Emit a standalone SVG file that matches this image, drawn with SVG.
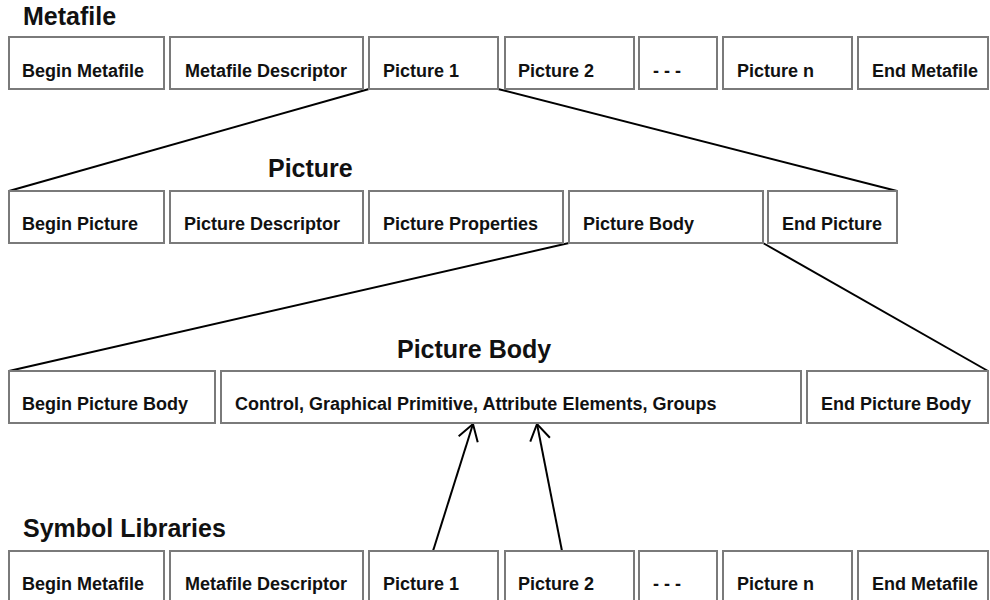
<svg xmlns="http://www.w3.org/2000/svg" width="990" height="600" viewBox="0 0 990 600">
<defs>
<style>
.box{fill:#fff;stroke:#7a7a7a;stroke-width:2}
.lbl{font-family:"Liberation Sans",Arial,sans-serif;font-weight:bold;font-size:18px;fill:#111}
.ttl{font-family:"Liberation Sans",Arial,sans-serif;font-weight:bold;font-size:25px;fill:#111}
.con{stroke:#000;stroke-width:2;fill:none}
</style>
<marker id="ah" markerUnits="userSpaceOnUse" markerWidth="20" markerHeight="24" viewBox="0 0 20 24" refX="18" refY="12" orient="auto">
<path d="M2,2 L18,12 L2,22" fill="none" stroke="#000" stroke-width="2"/>
</marker>
</defs>
<rect width="990" height="600" fill="#fff"/>

<text class="ttl" x="23" y="25">Metafile</text>
<text class="ttl" x="268" y="177">Picture</text>
<text class="ttl" x="397" y="358">Picture Body</text>
<text class="ttl" x="23" y="537">Symbol Libraries</text>

<g id="connectors">
<line class="con" x1="369" y1="89" x2="9" y2="191"/>
<line class="con" x1="498" y1="89" x2="897" y2="191"/>
<line class="con" x1="569" y1="243" x2="9" y2="371"/>
<line class="con" x1="763" y1="243" x2="988" y2="371"/>
<line class="con" x1="433" y1="551" x2="473" y2="424" marker-end="url(#ah)"/>
<line class="con" x1="562" y1="551" x2="537" y2="424" marker-end="url(#ah)"/>
</g>

<g id="m-begin"><rect class="box" x="9" y="37" width="155" height="52"/><text class="lbl" x="22" y="77">Begin Metafile</text></g>
<g id="m-desc"><rect class="box" x="170" y="37" width="193" height="52"/><text class="lbl" x="185" y="77">Metafile Descriptor</text></g>
<g id="m-pic1"><rect class="box" x="369" y="37" width="129" height="52"/><text class="lbl" x="383" y="77">Picture 1</text></g>
<g id="m-pic2"><rect class="box" x="505" y="37" width="129" height="52"/><text class="lbl" x="518" y="77">Picture 2</text></g>
<g id="m-dots"><rect class="box" x="639" y="37" width="78" height="52"/><text class="lbl" x="653" y="77">- - -</text></g>
<g id="m-picn"><rect class="box" x="723" y="37" width="129" height="52"/><text class="lbl" x="737" y="77">Picture n</text></g>
<g id="m-end"><rect class="box" x="858" y="37" width="130" height="52"/><text class="lbl" x="872" y="77">End Metafile</text></g>

<g id="p-begin"><rect class="box" x="9" y="191" width="155" height="52"/><text class="lbl" x="22" y="230">Begin Picture</text></g>
<g id="p-desc"><rect class="box" x="170" y="191" width="193" height="52"/><text class="lbl" x="184" y="230">Picture Descriptor</text></g>
<g id="p-props"><rect class="box" x="369" y="191" width="194" height="52"/><text class="lbl" x="383" y="230">Picture Properties</text></g>
<g id="p-body"><rect class="box" x="569" y="191" width="194" height="52"/><text class="lbl" x="583" y="230">Picture Body</text></g>
<g id="p-end"><rect class="box" x="768" y="191" width="129" height="52"/><text class="lbl" x="782" y="230">End Picture</text></g>

<g id="b-begin"><rect class="box" x="9" y="371" width="206" height="52"/><text class="lbl" x="22" y="410">Begin Picture Body</text></g>
<g id="b-elems"><rect class="box" x="221" y="371" width="580" height="52"/><text class="lbl" x="235" y="410">Control, Graphical Primitive, Attribute Elements, Groups</text></g>
<g id="b-end"><rect class="box" x="807" y="371" width="181" height="52"/><text class="lbl" x="821" y="410">End Picture Body</text></g>

<g id="s-begin"><rect class="box" x="9" y="551" width="155" height="52"/><text class="lbl" x="22" y="590">Begin Metafile</text></g>
<g id="s-desc"><rect class="box" x="170" y="551" width="193" height="52"/><text class="lbl" x="185" y="590">Metafile Descriptor</text></g>
<g id="s-pic1"><rect class="box" x="369" y="551" width="129" height="52"/><text class="lbl" x="383" y="590">Picture 1</text></g>
<g id="s-pic2"><rect class="box" x="505" y="551" width="129" height="52"/><text class="lbl" x="518" y="590">Picture 2</text></g>
<g id="s-dots"><rect class="box" x="639" y="551" width="78" height="52"/><text class="lbl" x="653" y="590">- - -</text></g>
<g id="s-picn"><rect class="box" x="723" y="551" width="129" height="52"/><text class="lbl" x="737" y="590">Picture n</text></g>
<g id="s-end"><rect class="box" x="858" y="551" width="130" height="52"/><text class="lbl" x="872" y="590">End Metafile</text></g>
</svg>
